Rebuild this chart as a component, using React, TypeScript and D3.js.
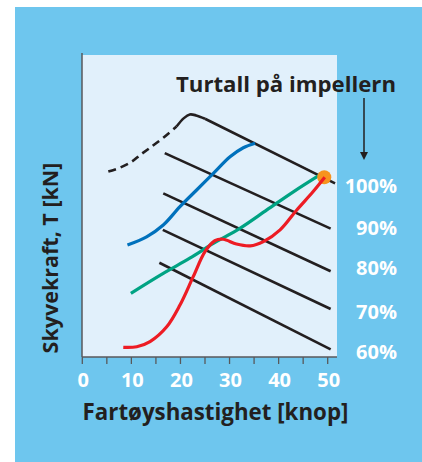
import React from "react";
import * as d3 from "d3";

const xTicks = [0, 5, 10, 15, 20, 25, 30, 35, 40, 45, 50];
const xLabels = [0, 10, 20, 30, 40, 50];
const rpmLabels = ["100%", "90%", "80%", "70%", "60%"];
const rpmLabelY = [56.7, 42.7, 29.5, 15.0, 1.7];

// envelope curve (dashed part, rounded peak, then straight)
const envDashed: [number, number][] = [
  [5.3, 61.4], [7.7, 62.7], [10.1, 64.7], [11.8, 66.9], [13.8, 69.3], [16.5, 72.6], [19.2, 76.3],
];
const envPeak: [number, number][] = [
  [19.2, 76.3], [20.7, 79.1], [21.9, 80.3], [23.2, 80.0], [25.0, 78.9],
];
const envLine: [number, number][] = [[25.0, 78.9], [51.5, 57.5]];
const rpm90: [number, number][] = [[16.8, 67.5], [50.6, 42.5]];
const rpm80: [number, number][] = [[16.5, 54.2], [50.6, 28.4]];
const rpm70: [number, number][] = [[16.4, 42.1], [50.6, 15.9]];
const rpm60: [number, number][] = [[15.7, 31.2], [50.6, 2.5]];

const blueCurve: [number, number][] = [
  [9.2, 37.1], [13.1, 39.8], [16.5, 43.7], [19.9, 49.8], [23.3, 55.3], [26.7, 60.8], [30.1, 66.3], [32.8, 69.3], [35.2, 70.8],
];
const greenCurve: [number, number][] = [
  [9.9, 21.1], [16.5, 27.7], [21.9, 32.7], [26.7, 37.6], [32.1, 42.6], [37.6, 48.7], [43.0, 54.7], [48.4, 60.3],
];
const redCurve: [number, number][] = [
  [8.35, 3.2], [11.1, 3.4], [13.8, 5.1], [17.2, 10.0], [19.9, 17.2], [22.6, 26.6], [25.0, 34.9], [27.0, 38.5],
  [28.7, 39.0], [31.4, 37.4], [34.2, 36.8], [36.9, 38.2], [40.3, 42.1], [43.7, 48.7], [47.0, 54.7], [49.4, 59.5],
];
const designPoint: [number, number] = [49.3, 59.5];

const FONT = "'Open Sans', 'Noto Sans', sans-serif";
const DARK = "#231f20";

export default function App() {
  const x = d3.scaleLinear().domain([0, 50]).range([82.3, 327.7]);
  const y = d3.scaleLinear().domain([0, 100]).range([357, 55]);
  const smooth = d3.line<[number, number]>().x(d => x(d[0])).y(d => y(d[1])).curve(d3.curveCatmullRom.alpha(0.5));
  const straight = d3.line<[number, number]>().x(d => x(d[0])).y(d => y(d[1]));

  return (
    <svg width={422} height={462} style={{ position: "absolute", left: 0, top: 0 }}>
      <rect x={15} y={7} width={407} height={455} fill="#6ec6ee" />
      <rect x={82} y={55} width={255} height={302} fill="#e1f0fb" />
      <line x1={82} y1={53} x2={82} y2={357} stroke="#58595b" strokeWidth={1.5} />
      <line x1={82} y1={357} x2={337} y2={357} stroke="#58595b" strokeWidth={1.5} />
      {xTicks.map(t => (
        <line key={t} x1={x(t)} x2={x(t)} y1={357} y2={364} stroke="#58595b" strokeWidth={1.3} />
      ))}
      {xLabels.map(t => (
        <text key={t} x={x(t) + 1} y={386.5} textAnchor="middle" fill="#fff" fontFamily={FONT} fontWeight={700} fontSize={20}>
          {t}
        </text>
      ))}
      <text x={215.5} y={420} textAnchor="middle" fill={DARK} fontFamily={FONT} fontWeight={700} fontSize={22.3}>
        Fartøyshastighet [knop]
      </text>
      <text transform="translate(58,258) rotate(-90)" textAnchor="middle" fill={DARK} fontFamily={FONT} fontWeight={700} fontSize={21.5}>
        Skyvekraft, T [kN]
      </text>
      <text x={286} y={92} textAnchor="middle" fill={DARK} fontFamily={FONT} fontWeight={700} fontSize={22.2}>
        Turtall på impellern
      </text>
      <line x1={364} y1={98} x2={364} y2={154} stroke={DARK} strokeWidth={1.5} />
      <path d="M360,152 L368,152 L364,160 Z" fill={DARK} />
      {rpmLabels.map((l, i) => (
        <text key={l} x={397} y={y(rpmLabelY[i]) + 7} textAnchor="end" fill="#fff" fontFamily={FONT} fontWeight={700} fontSize={20}>
          {l}
        </text>
      ))}
      <g fill="none" strokeLinecap="butt">
        {[rpm90, rpm80, rpm70, rpm60].map((d, i) => (
          <path key={i} d={straight(d) || ""} stroke={DARK} strokeWidth={2.6} />
        ))}
        <path d={smooth(envDashed) || ""} stroke={DARK} strokeWidth={2.6} strokeDasharray="8,5" />
        <path d={smooth(envPeak) || ""} stroke={DARK} strokeWidth={2.6} />
        <path d={straight(envLine) || ""} stroke={DARK} strokeWidth={2.6} />
        <path d={smooth(blueCurve) || ""} stroke="#0071bc" strokeWidth={3.2} />
        <path d={smooth(greenCurve) || ""} stroke="#00a383" strokeWidth={3.2} />
      </g>
      <circle cx={x(designPoint[0])} cy={y(designPoint[1])} r={7} fill="#f7931e" />
      <path d={smooth(redCurve) || ""} fill="none" stroke="#ed1c24" strokeWidth={3.2} />
    </svg>
  );
}
